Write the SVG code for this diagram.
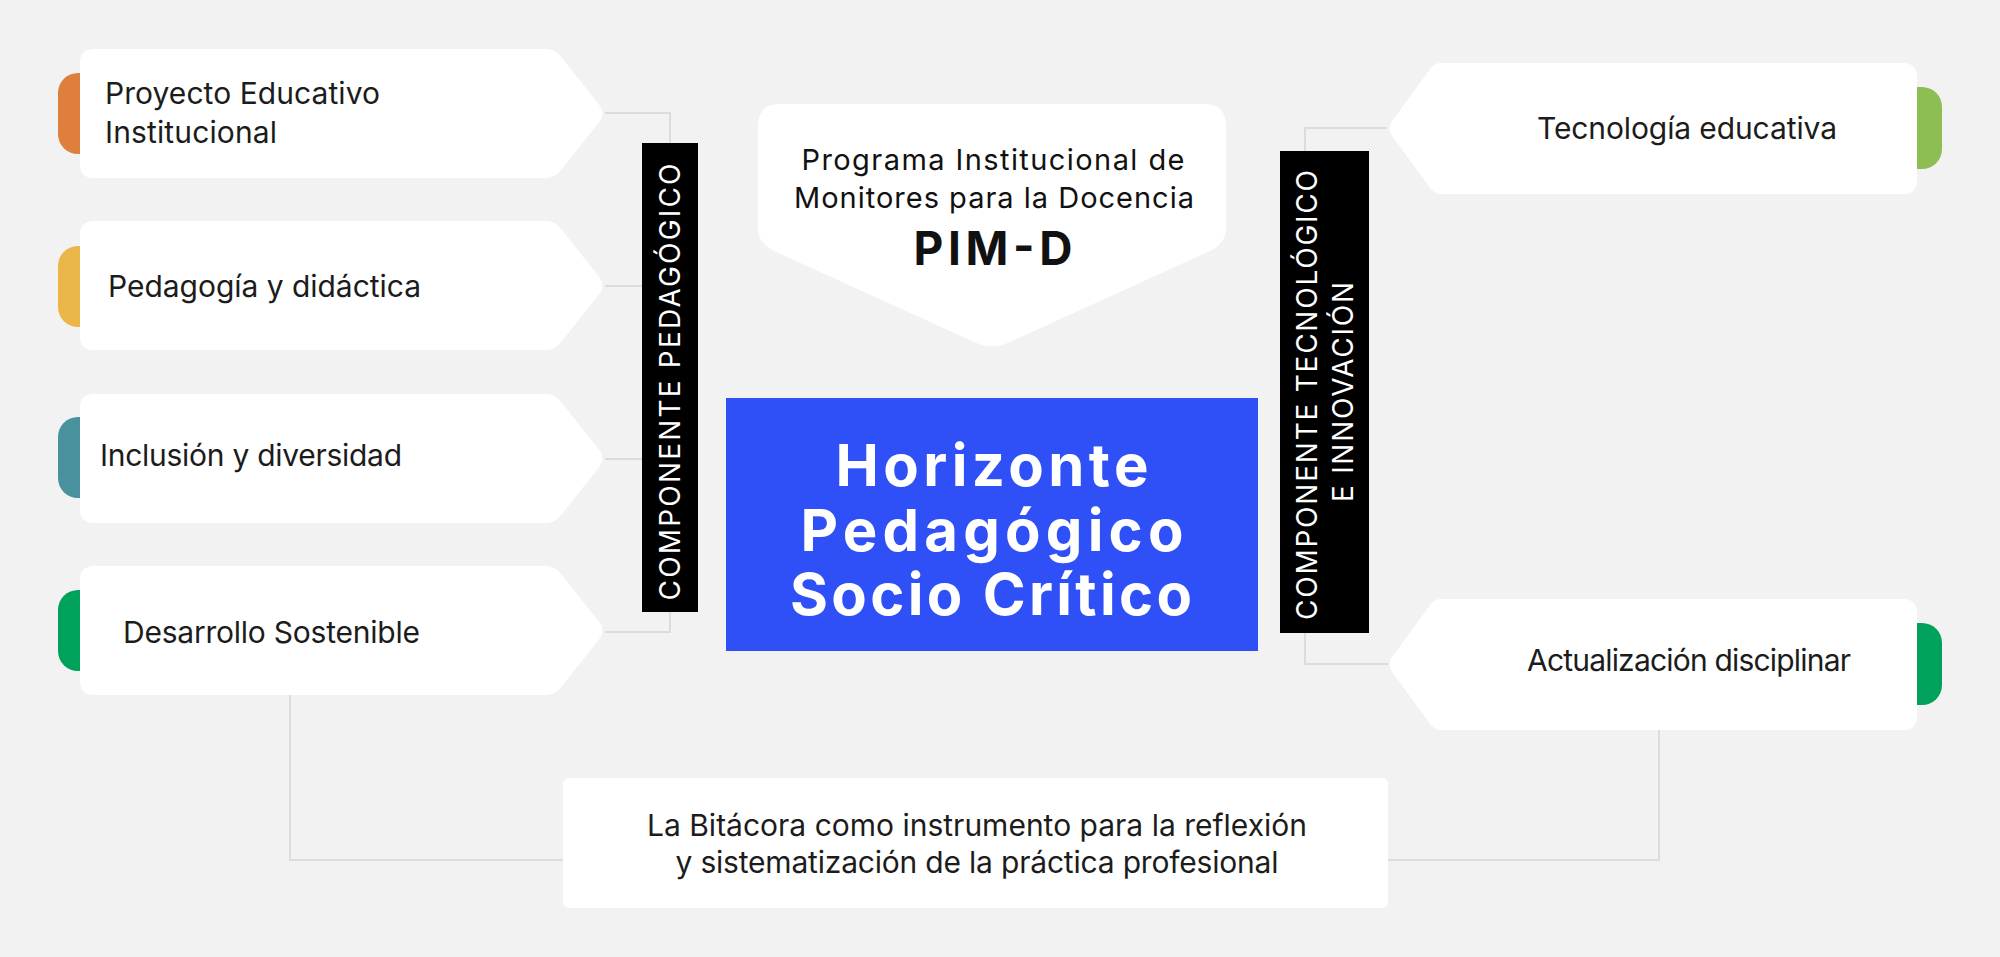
<svg xmlns="http://www.w3.org/2000/svg" xmlns:xlink="http://www.w3.org/1999/xlink" width="2000" height="957" viewBox="0 0 2000 957">
<style>
  .bg{fill:#f2f2f2}
  .card{fill:#ffffff}
  .lbl{font-family:Inter,"Noto Sans","Liberation Sans",sans-serif;font-size:30px;fill:#1c1c1c}
  .bar{fill:#000000}
  .bartxt{font-family:Inter,"Noto Sans","Liberation Sans",sans-serif;font-size:28px;fill:#ffffff;text-anchor:middle}
  .conn{fill:none;stroke:#dcdcdc;stroke-width:2}
  .big{font-family:Inter,"Noto Sans","Liberation Sans",sans-serif;font-weight:700;font-size:58px;fill:#ffffff;text-anchor:middle}
  .pim{font-family:Inter,"Noto Sans","Liberation Sans",sans-serif;font-size:29px;fill:#111111;text-anchor:middle}
  .pimb{font-family:Inter,"Noto Sans","Liberation Sans",sans-serif;font-weight:700;font-size:46px;fill:#111111;text-anchor:middle}
</style>
<defs>
  <path id="cardL" d="M14,0 H465 Q476,0 482,9 L520,57 Q525,64.5 520,72 L482,120 Q476,129 465,129 H14 Q0,129 0,115 V14 Q0,0 14,0 Z"/>
  <path id="cardR" d="M54,0 H516 Q530,0 530,14 V117 Q530,131 516,131 H54 Q46,131 41,122 L5,73 Q0,65.5 5,58 L41,9 Q46,0 54,0 Z"/>
</defs>
<rect class="bg" x="0" y="0" width="2000" height="957"/>

<g id="connectors">
  <path class="conn" d="M605,113 H670 V143"/>
  <path class="conn" d="M605,286 H642"/>
  <path class="conn" d="M605,459 H642"/>
  <path class="conn" d="M605,632 H670 V611"/>
  <path class="conn" d="M290,695 V860 H563"/>
  <path class="conn" d="M1387,128 H1305 V151"/>
  <path class="conn" d="M1388,664 H1305 V633"/>
  <path class="conn" d="M1659,730 V860 H1388"/>
</g>

<g id="node-proyecto">
  <rect x="58" y="73" width="44" height="81" rx="20" fill="#de7f3e"/>
  <use href="#cardL" class="card" transform="translate(80,49)"/>
  <text class="lbl" x="105" y="104" textLength="275">Proyecto Educativo</text>
  <text class="lbl" x="105" y="143" textLength="172">Institucional</text>
</g>

<g id="node-pedagogia">
  <rect x="58" y="246" width="44" height="81" rx="20" fill="#ebb649"/>
  <use href="#cardL" class="card" transform="translate(80,221)"/>
  <text class="lbl" x="108" y="297" textLength="313">Pedagogía y didáctica</text>
</g>

<g id="node-inclusion">
  <rect x="58" y="417" width="44" height="81" rx="20" fill="#48919d"/>
  <use href="#cardL" class="card" transform="translate(80,394)"/>
  <text class="lbl" x="100" y="466" textLength="302">Inclusión y diversidad</text>
</g>

<g id="node-desarrollo">
  <rect x="58" y="590" width="44" height="81" rx="20" fill="#00a15b"/>
  <use href="#cardL" class="card" transform="translate(80,566)"/>
  <text class="lbl" x="123" y="643" textLength="297">Desarrollo Sostenible</text>
</g>

<g id="bar-pedagogico">
  <rect class="bar" x="642" y="143" width="56" height="469"/>
  <text class="bartxt" transform="translate(680,382) rotate(-90)" textLength="437">COMPONENTE PEDAGÓGICO</text>
</g>

<g id="node-pimd">
  <path class="card" d="M780,104 H1204 Q1226,104 1226,126 V228 Q1226,242 1212,250 L1010,342 Q992,350 974,342 L772,250 Q758,242 758,228 V126 Q758,104 780,104 Z"/>
  <text class="pim" x="993" y="170" textLength="383">Programa Institucional de</text>
  <text class="pim" x="994" y="208" textLength="400">Monitores para la Docencia</text>
  <text class="pimb" x="993" y="265" textLength="159">PIM-D</text>
</g>

<g id="node-horizonte">
  <rect x="726" y="398" width="532" height="253" fill="#2f50f7"/>
  <text class="big" x="992" y="486" textLength="313">Horizonte</text>
  <text class="big" x="992" y="551" textLength="383">Pedagógico</text>
  <text class="big" x="991" y="615" textLength="402">Socio Crítico</text>
</g>

<g id="bar-tecnologico">
  <rect class="bar" x="1280" y="151" width="89" height="482"/>
  <text class="bartxt" transform="translate(1317,395) rotate(-90)" textLength="450">COMPONENTE TECNOLÓGICO</text>
  <text class="bartxt" transform="translate(1353,392) rotate(-90)" textLength="220">E INNOVACIÓN</text>
</g>

<g id="node-tecnologia">
  <rect x="1895" y="87" width="47" height="82" rx="20" fill="#8cbe54"/>
  <use href="#cardR" class="card" transform="translate(1387,63)"/>
  <text class="lbl" x="1537" y="139" textLength="300">Tecnología educativa</text>
</g>

<g id="node-actualizacion">
  <rect x="1895" y="623" width="47" height="82" rx="20" fill="#00a15b"/>
  <use href="#cardR" class="card" transform="translate(1387,599)"/>
  <text class="lbl" x="1527" y="671" textLength="324">Actualización disciplinar</text>
</g>

<g id="node-bitacora">
  <rect class="card" x="563" y="778" width="825" height="130" rx="6"/>
  <text class="lbl" x="977" y="836" text-anchor="middle" textLength="660">La Bitácora como instrumento para la reflexión</text>
  <text class="lbl" x="977" y="873" text-anchor="middle" textLength="603">y sistematización de la práctica profesional</text>
</g>
</svg>
